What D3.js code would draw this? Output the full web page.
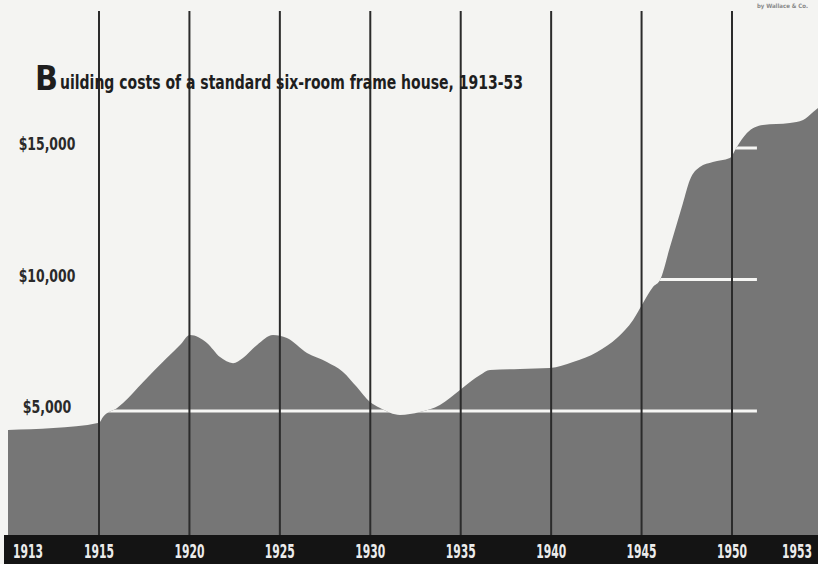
<!DOCTYPE html>
<html>
<head>
<meta charset="utf-8">
<script src="https://cdn.jsdelivr.net/npm/d3@7"></script>
<style>
  html, body { margin: 0; padding: 0; background: #f4f4f2; }
  svg { display: block; }
  text { font-family: "DejaVu Sans Condensed", "Liberation Sans Narrow", sans-serif; font-weight: bold; }
</style>
</head>
<body>
<svg id="chart" width="818" height="564"></svg>
<script>
// ---- data ----
const years = [1913, 1914, 1915, 1915.22, 1916.0, 1916.33, 1917.43, 1918.76, 1919.48,
  1920.03, 1920.97, 1921.69, 1922.41, 1922.96, 1923.74, 1924.62, 1925.39, 1926.5, 1927.6,
  1928.49, 1929.26, 1929.98, 1930.54, 1931.64, 1932.75, 1933.85, 1934.96, 1936.07, 1936.62,
  1938.28, 1939.94, 1941.21, 1942.54, 1943.64, 1944.53, 1945.08, 1945.63, 1946.02, 1946.57,
  1947.29, 1947.67, 1948.22, 1948.94, 1949.88, 1950.17, 1950.52, 1951.08, 1952.02, 1952.48,
  1952.83, 1953];
const costs = [4280, 4350, 4550, 4770, 5110, 5300, 6090, 7020, 7505,
  7890, 7585, 7050, 6820, 7015, 7510, 7890, 7775, 7205, 6865,
  6485, 5910, 5340, 5115, 4850, 4960, 5230, 5800, 6370, 6560,
  6600, 6635, 6860, 7245, 7775, 8460, 9105, 9715, 9980, 11235,
  12910, 13785, 14280, 14470, 14620, 15040, 15570, 15875, 15950, 16065,
  16370, 16520];
const gridYears = [1915, 1920, 1925, 1930, 1935, 1940, 1945, 1950];
const tickLabels = ["1913", "1915", "1920", "1925", "1930", "1935", "1940", "1945", "1950", "1953"];
const tickYears = [1913, 1915, 1920, 1925, 1930, 1935, 1940, 1945, 1950, 1953];
const levelValues = [5000, 10000, 15000];
const levelLabels = ["$5,000", "$10,000", "$15,000"];
const levelEndYear = 1950.87;
const titleFirst = "B";
const titleRest = "uilding costs of a standard six-room frame house, 1913-53";
const credit = "by Wallace & Co.";

// ---- scales ----
const W = 818, H = 564;
const x = d3.scaleLinear().domain([1913, 1915, 1950, 1953]).range([8, 99, 732, 818]);
const y = d3.scaleLinear().domain([0, 15000]).range([542.5, 148]);
const barTop = 535;

const svg = d3.select("#chart");
svg.append("rect").attr("width", W).attr("height", H).attr("fill", "#f4f4f2");

const data = years.map((yr, i) => ({ yr, v: costs[i] }));
const area = d3.area().x(d => x(d.yr)).y0(y(0)).y1(d => y(d.v)).curve(d3.curveMonotoneX);

svg.append("clipPath").attr("id", "areaClip")
  .append("path").attr("d", area(data));

svg.append("path").attr("d", area(data)).attr("fill", "#767676");

// white level lines, visible only on the area
svg.append("g").attr("clip-path", "url(#areaClip)")
  .selectAll("line").data(levelValues).join("line")
  .attr("x1", x(1913)).attr("x2", x(levelEndYear))
  .attr("y1", d => y(d)).attr("y2", d => y(d))
  .attr("stroke", "#f6f6f4").attr("stroke-width", 3);

// vertical grid lines
svg.append("g").selectAll("line").data(gridYears).join("line")
  .attr("x1", d => x(d)).attr("x2", d => x(d))
  .attr("y1", 11).attr("y2", barTop)
  .attr("stroke", "#2b2b2b").attr("stroke-width", 2);

// bottom bar
svg.append("rect").attr("x", 4).attr("y", barTop).attr("width", W - 4).attr("height", H - barTop)
  .attr("fill", "#141414");

// condensed text helper: scales horizontally to a target width
function squeeze(sel, cx, cy, targetW) {
  const len = sel.node().getComputedTextLength();
  const s = targetW / len;
  sel.attr("text-anchor", "middle").attr("x", 0).attr("y", 0)
    .attr("transform", `translate(${cx},${cy}) scale(${s},1)`);
}

const labelW = 30;
svg.append("g").selectAll("text").data(tickYears).join("text")
  .attr("font-size", 20)
  .attr("fill", "#ececec")
  .text((d, i) => tickLabels[i])
  .each(function (d) {
    const c = Math.min(Math.max(x(d), 28), 797);
    squeeze(d3.select(this), c, 558, labelW);
  });

// y labels
svg.append("g").selectAll("text").data(levelValues).join("text")
  .attr("font-size", 18)
  .attr("fill", "#2a2a2a")
  .text((d, i) => levelLabels[i])
  .each(function (d, i) {
    squeeze(d3.select(this), 47, y(d) + 2, levelLabels[i].length * 8.1);
  });

// title
svg.append("text").attr("x", 35).attr("y", 90).attr("font-size", 34).attr("fill", "#1e1e1e")
  .attr("textLength", 23).attr("lengthAdjust", "spacingAndGlyphs")
  .text(titleFirst);
svg.append("text").attr("x", 60).attr("y", 89).attr("font-size", 19).attr("fill", "#1e1e1e")
  .attr("textLength", 463).attr("lengthAdjust", "spacingAndGlyphs")
  .text(titleRest);

// credit
svg.append("text").attr("x", 808).attr("y", 8).attr("text-anchor", "end")
  .attr("font-size", 6).attr("fill", "#8a8a8a").text(credit);
</script>
</body>
</html>
